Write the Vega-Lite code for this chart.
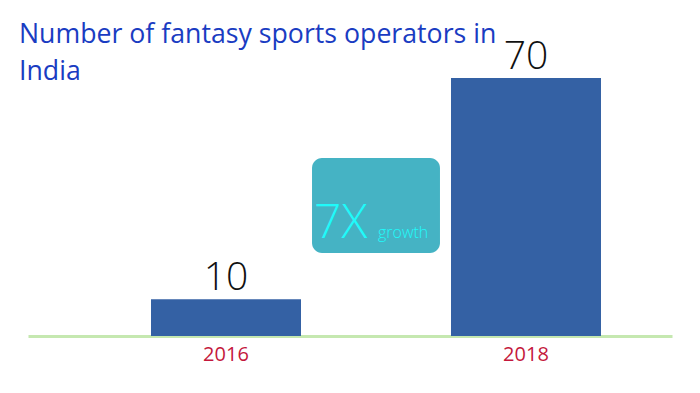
{
  "$schema": "https://vega.github.io/schema/vega-lite/v6.json",
  "width": 644,
  "height": 336,
  "autosize": "none",
  "padding": {"left": 28, "right": 28, "top": 0, "bottom": 57},
  "background": "white",
  "config": {"view": {"stroke": null}, "font": "Open Sans"},
  "title": {
    "text": ["Number of fantasy sports operators in", "India"],
    "anchor": "start",
    "orient": "top",
    "offset": -86,
    "dx": -9,
    "fontSize": 26.7,
    "lineHeight": 37,
    "font": "Open Sans",
    "fontWeight": "normal",
    "color": "#1a3cc2"
  },
  "datasets": {
    "ops": [
      {"year": "2016", "operators": 10},
      {"year": "2018", "operators": 70}
    ],
    "note": [
      {"year": "gap", "low": 22.5, "high": 48.3, "base": 26.6, "big": "7X", "small": "growth"}
    ]
  },
  "encoding": {
    "x": {
      "field": "year",
      "type": "nominal",
      "sort": null,
      "scale": {"domain": ["2016", "gap", "2018"], "paddingInner": 0, "paddingOuter": 0.6467, "align": 0.634},
      "axis": {
        "title": null,
        "labelExpr": "datum.value == 'gap' ? '' : datum.value",
        "labelAngle": 0,
        "labelColor": "#c4183c",
        "labelFontSize": 20,
        "labelFont": "Open Sans",
        "labelFontWeight": "normal",
        "labelPadding": 8,
        "ticks": false,
        "tickSize": 0,
        "domainColor": "#c5e8b0",
        "domainWidth": 3,
        "grid": false
      }
    }
  },
  "layer": [
    {
      "data": {"name": "note"},
      "mark": {"type": "bar", "color": "#45b3c4", "cornerRadius": 10, "width": {"band": 0.853}},
      "encoding": {
        "y": {"field": "low", "type": "quantitative", "scale": {"domain": [0, 91.16], "nice": false, "zero": true}, "axis": null},
        "y2": {"field": "high"}
      }
    },
    {
      "data": {"name": "note"},
      "mark": {"type": "text", "align": "left", "baseline": "alphabetic", "dx": -62, "fontSize": 48, "fontWeight": 300, "color": "#1ffafa"},
      "encoding": {
        "y": {"field": "base", "type": "quantitative"},
        "text": {"field": "big"}
      }
    },
    {
      "data": {"name": "note"},
      "mark": {"type": "text", "align": "left", "baseline": "alphabetic", "dx": 2, "fontSize": 16, "fontWeight": 300, "color": "#1ffafa"},
      "encoding": {
        "y": {"field": "base", "type": "quantitative"},
        "text": {"field": "small"}
      }
    },
    {
      "data": {"name": "ops"},
      "mark": {"type": "bar", "color": "#3461a4", "width": {"band": 1}},
      "encoding": {
        "y": {"field": "operators", "type": "quantitative"}
      }
    },
    {
      "data": {"name": "ops"},
      "mark": {"type": "text", "baseline": "alphabetic", "dy": -9, "fontSize": 39, "fontWeight": 300, "color": "#111111"},
      "encoding": {
        "y": {"field": "operators", "type": "quantitative"},
        "text": {"field": "operators"}
      }
    }
  ]
}
